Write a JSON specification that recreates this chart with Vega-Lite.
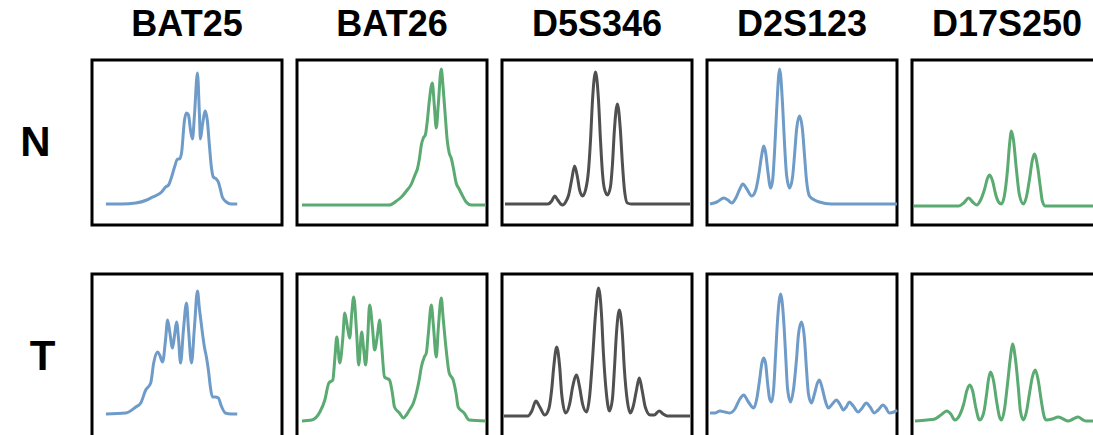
{
  "$schema": "https://vega.github.io/schema/vega-lite/v6.json",
  "background": "white",
  "padding": {"left": 20, "top": 7, "right": 0, "bottom": 0},
  "datasets": {
    "traces": [
      {"r":"N","c":"BAT25","x":14,"y":21},{"r":"N","c":"BAT25","x":30,"y":21},{"r":"N","c":"BAT25","x":44,"y":22},{"r":"N","c":"BAT25","x":55,"y":25},{"r":"N","c":"BAT25","x":61,"y":28},{"r":"N","c":"BAT25","x":70,"y":33},{"r":"N","c":"BAT25","x":74,"y":38},{"r":"N","c":"BAT25","x":77,"y":40},{"r":"N","c":"BAT25","x":80,"y":48},{"r":"N","c":"BAT25","x":83,"y":58},{"r":"N","c":"BAT25","x":86,"y":66},{"r":"N","c":"BAT25","x":88,"y":66},{"r":"N","c":"BAT25","x":90,"y":72},{"r":"N","c":"BAT25","x":93,"y":105},{"r":"N","c":"BAT25","x":95,"y":112},{"r":"N","c":"BAT25","x":97,"y":110},{"r":"N","c":"BAT25","x":99,"y":95},{"r":"N","c":"BAT25","x":101,"y":86},{"r":"N","c":"BAT25","x":103,"y":110},{"r":"N","c":"BAT25","x":106,"y":152},{"r":"N","c":"BAT25","x":108,"y":110},{"r":"N","c":"BAT25","x":109,"y":86},{"r":"N","c":"BAT25","x":111,"y":100},{"r":"N","c":"BAT25","x":114,"y":114},{"r":"N","c":"BAT25","x":116,"y":104},{"r":"N","c":"BAT25","x":118,"y":80},{"r":"N","c":"BAT25","x":120,"y":58},{"r":"N","c":"BAT25","x":122,"y":48},{"r":"N","c":"BAT25","x":125,"y":46},{"r":"N","c":"BAT25","x":127,"y":43},{"r":"N","c":"BAT25","x":129,"y":36},{"r":"N","c":"BAT25","x":131,"y":28},{"r":"N","c":"BAT25","x":135,"y":23},{"r":"N","c":"BAT25","x":140,"y":21},{"r":"N","c":"BAT25","x":146,"y":21},

      {"r":"N","c":"BAT26","x":5,"y":20},{"r":"N","c":"BAT26","x":93,"y":20},{"r":"N","c":"BAT26","x":100,"y":24},{"r":"N","c":"BAT26","x":105,"y":28},{"r":"N","c":"BAT26","x":110,"y":34},{"r":"N","c":"BAT26","x":115,"y":41},{"r":"N","c":"BAT26","x":117,"y":46},{"r":"N","c":"BAT26","x":119,"y":51},{"r":"N","c":"BAT26","x":121,"y":56},{"r":"N","c":"BAT26","x":123,"y":66},{"r":"N","c":"BAT26","x":125,"y":80},{"r":"N","c":"BAT26","x":127,"y":87},{"r":"N","c":"BAT26","x":129,"y":90},{"r":"N","c":"BAT26","x":131,"y":104},{"r":"N","c":"BAT26","x":133,"y":124},{"r":"N","c":"BAT26","x":136,"y":142},{"r":"N","c":"BAT26","x":138,"y":120},{"r":"N","c":"BAT26","x":140,"y":97},{"r":"N","c":"BAT26","x":142,"y":120},{"r":"N","c":"BAT26","x":145,"y":156},{"r":"N","c":"BAT26","x":147,"y":136},{"r":"N","c":"BAT26","x":149,"y":110},{"r":"N","c":"BAT26","x":151,"y":85},{"r":"N","c":"BAT26","x":153,"y":72},{"r":"N","c":"BAT26","x":155,"y":67},{"r":"N","c":"BAT26","x":157,"y":58},{"r":"N","c":"BAT26","x":160,"y":42},{"r":"N","c":"BAT26","x":163,"y":36},{"r":"N","c":"BAT26","x":166,"y":30},{"r":"N","c":"BAT26","x":170,"y":23},{"r":"N","c":"BAT26","x":175,"y":20},{"r":"N","c":"BAT26","x":190,"y":20},

      {"r":"N","c":"D5S346","x":3,"y":21},{"r":"N","c":"D5S346","x":46,"y":21},{"r":"N","c":"D5S346","x":50,"y":24},{"r":"N","c":"D5S346","x":53,"y":29},{"r":"N","c":"D5S346","x":56,"y":25},{"r":"N","c":"D5S346","x":59,"y":21},{"r":"N","c":"D5S346","x":61,"y":20},{"r":"N","c":"D5S346","x":64,"y":23},{"r":"N","c":"D5S346","x":67,"y":30},{"r":"N","c":"D5S346","x":70,"y":45},{"r":"N","c":"D5S346","x":73,"y":59},{"r":"N","c":"D5S346","x":76,"y":47},{"r":"N","c":"D5S346","x":78,"y":35},{"r":"N","c":"D5S346","x":81,"y":29},{"r":"N","c":"D5S346","x":84,"y":35},{"r":"N","c":"D5S346","x":87,"y":55},{"r":"N","c":"D5S346","x":89,"y":85},{"r":"N","c":"D5S346","x":91,"y":125},{"r":"N","c":"D5S346","x":94,"y":153},{"r":"N","c":"D5S346","x":97,"y":125},{"r":"N","c":"D5S346","x":99,"y":85},{"r":"N","c":"D5S346","x":101,"y":52},{"r":"N","c":"D5S346","x":103,"y":36},{"r":"N","c":"D5S346","x":106,"y":30},{"r":"N","c":"D5S346","x":109,"y":38},{"r":"N","c":"D5S346","x":111,"y":60},{"r":"N","c":"D5S346","x":113,"y":95},{"r":"N","c":"D5S346","x":116,"y":121},{"r":"N","c":"D5S346","x":119,"y":95},{"r":"N","c":"D5S346","x":121,"y":62},{"r":"N","c":"D5S346","x":123,"y":36},{"r":"N","c":"D5S346","x":126,"y":22},{"r":"N","c":"D5S346","x":130,"y":21},{"r":"N","c":"D5S346","x":189,"y":21},

      {"r":"N","c":"D2S123","x":3,"y":21},{"r":"N","c":"D2S123","x":10,"y":23},{"r":"N","c":"D2S123","x":17,"y":27},{"r":"N","c":"D2S123","x":21,"y":25},{"r":"N","c":"D2S123","x":25,"y":22},{"r":"N","c":"D2S123","x":29,"y":27},{"r":"N","c":"D2S123","x":33,"y":36},{"r":"N","c":"D2S123","x":36,"y":41},{"r":"N","c":"D2S123","x":40,"y":36},{"r":"N","c":"D2S123","x":45,"y":29},{"r":"N","c":"D2S123","x":49,"y":35},{"r":"N","c":"D2S123","x":52,"y":50},{"r":"N","c":"D2S123","x":55,"y":70},{"r":"N","c":"D2S123","x":57,"y":79},{"r":"N","c":"D2S123","x":59,"y":72},{"r":"N","c":"D2S123","x":61,"y":55},{"r":"N","c":"D2S123","x":64,"y":37},{"r":"N","c":"D2S123","x":66,"y":45},{"r":"N","c":"D2S123","x":68,"y":75},{"r":"N","c":"D2S123","x":70,"y":115},{"r":"N","c":"D2S123","x":73,"y":156},{"r":"N","c":"D2S123","x":76,"y":120},{"r":"N","c":"D2S123","x":78,"y":80},{"r":"N","c":"D2S123","x":80,"y":50},{"r":"N","c":"D2S123","x":83,"y":37},{"r":"N","c":"D2S123","x":86,"y":48},{"r":"N","c":"D2S123","x":88,"y":70},{"r":"N","c":"D2S123","x":90,"y":95},{"r":"N","c":"D2S123","x":93,"y":109},{"r":"N","c":"D2S123","x":96,"y":95},{"r":"N","c":"D2S123","x":98,"y":70},{"r":"N","c":"D2S123","x":100,"y":45},{"r":"N","c":"D2S123","x":103,"y":29},{"r":"N","c":"D2S123","x":108,"y":25},{"r":"N","c":"D2S123","x":113,"y":23},{"r":"N","c":"D2S123","x":125,"y":21},{"r":"N","c":"D2S123","x":191,"y":21},

      {"r":"N","c":"D17S250","x":2,"y":19},{"r":"N","c":"D17S250","x":47,"y":19},{"r":"N","c":"D17S250","x":52,"y":22},{"r":"N","c":"D17S250","x":57,"y":27},{"r":"N","c":"D17S250","x":61,"y":23},{"r":"N","c":"D17S250","x":65,"y":20},{"r":"N","c":"D17S250","x":69,"y":25},{"r":"N","c":"D17S250","x":73,"y":36},{"r":"N","c":"D17S250","x":76,"y":47},{"r":"N","c":"D17S250","x":78,"y":50},{"r":"N","c":"D17S250","x":81,"y":44},{"r":"N","c":"D17S250","x":84,"y":31},{"r":"N","c":"D17S250","x":87,"y":23},{"r":"N","c":"D17S250","x":90,"y":21},{"r":"N","c":"D17S250","x":93,"y":30},{"r":"N","c":"D17S250","x":96,"y":55},{"r":"N","c":"D17S250","x":98,"y":80},{"r":"N","c":"D17S250","x":100,"y":94},{"r":"N","c":"D17S250","x":102,"y":85},{"r":"N","c":"D17S250","x":105,"y":55},{"r":"N","c":"D17S250","x":108,"y":30},{"r":"N","c":"D17S250","x":112,"y":21},{"r":"N","c":"D17S250","x":115,"y":28},{"r":"N","c":"D17S250","x":118,"y":45},{"r":"N","c":"D17S250","x":121,"y":65},{"r":"N","c":"D17S250","x":123,"y":71},{"r":"N","c":"D17S250","x":126,"y":60},{"r":"N","c":"D17S250","x":129,"y":38},{"r":"N","c":"D17S250","x":131,"y":24},{"r":"N","c":"D17S250","x":134,"y":19},{"r":"N","c":"D17S250","x":191,"y":19},

      {"r":"T","c":"BAT25","x":14,"y":25},{"r":"T","c":"BAT25","x":34,"y":26},{"r":"T","c":"BAT25","x":44,"y":32},{"r":"T","c":"BAT25","x":49,"y":36},{"r":"T","c":"BAT25","x":54,"y":49},{"r":"T","c":"BAT25","x":59,"y":56},{"r":"T","c":"BAT25","x":62,"y":76},{"r":"T","c":"BAT25","x":66,"y":87},{"r":"T","c":"BAT25","x":68,"y":84},{"r":"T","c":"BAT25","x":71,"y":77},{"r":"T","c":"BAT25","x":74,"y":100},{"r":"T","c":"BAT25","x":76,"y":119},{"r":"T","c":"BAT25","x":78,"y":108},{"r":"T","c":"BAT25","x":81,"y":91},{"r":"T","c":"BAT25","x":83,"y":104},{"r":"T","c":"BAT25","x":85,"y":117},{"r":"T","c":"BAT25","x":87,"y":100},{"r":"T","c":"BAT25","x":89,"y":76},{"r":"T","c":"BAT25","x":92,"y":110},{"r":"T","c":"BAT25","x":95,"y":136},{"r":"T","c":"BAT25","x":97,"y":110},{"r":"T","c":"BAT25","x":100,"y":76},{"r":"T","c":"BAT25","x":103,"y":112},{"r":"T","c":"BAT25","x":106,"y":148},{"r":"T","c":"BAT25","x":108,"y":130},{"r":"T","c":"BAT25","x":111,"y":106},{"r":"T","c":"BAT25","x":113,"y":92},{"r":"T","c":"BAT25","x":115,"y":82},{"r":"T","c":"BAT25","x":117,"y":69},{"r":"T","c":"BAT25","x":119,"y":52},{"r":"T","c":"BAT25","x":121,"y":42},{"r":"T","c":"BAT25","x":124,"y":42},{"r":"T","c":"BAT25","x":127,"y":41},{"r":"T","c":"BAT25","x":130,"y":33},{"r":"T","c":"BAT25","x":134,"y":26},{"r":"T","c":"BAT25","x":140,"y":25},{"r":"T","c":"BAT25","x":146,"y":25},

      {"r":"T","c":"BAT26","x":5,"y":18},{"r":"T","c":"BAT26","x":15,"y":19},{"r":"T","c":"BAT26","x":23,"y":27},{"r":"T","c":"BAT26","x":28,"y":39},{"r":"T","c":"BAT26","x":32,"y":56},{"r":"T","c":"BAT26","x":36,"y":59},{"r":"T","c":"BAT26","x":38,"y":80},{"r":"T","c":"BAT26","x":40,"y":102},{"r":"T","c":"BAT26","x":43,"y":76},{"r":"T","c":"BAT26","x":46,"y":100},{"r":"T","c":"BAT26","x":48,"y":126},{"r":"T","c":"BAT26","x":51,"y":110},{"r":"T","c":"BAT26","x":53,"y":101},{"r":"T","c":"BAT26","x":55,"y":125},{"r":"T","c":"BAT26","x":57,"y":142},{"r":"T","c":"BAT26","x":60,"y":105},{"r":"T","c":"BAT26","x":62,"y":74},{"r":"T","c":"BAT26","x":65,"y":107},{"r":"T","c":"BAT26","x":67,"y":90},{"r":"T","c":"BAT26","x":69,"y":74},{"r":"T","c":"BAT26","x":71,"y":100},{"r":"T","c":"BAT26","x":73,"y":134},{"r":"T","c":"BAT26","x":76,"y":110},{"r":"T","c":"BAT26","x":78,"y":89},{"r":"T","c":"BAT26","x":81,"y":105},{"r":"T","c":"BAT26","x":83,"y":119},{"r":"T","c":"BAT26","x":85,"y":95},{"r":"T","c":"BAT26","x":88,"y":62},{"r":"T","c":"BAT26","x":93,"y":59},{"r":"T","c":"BAT26","x":96,"y":45},{"r":"T","c":"BAT26","x":98,"y":32},{"r":"T","c":"BAT26","x":103,"y":26},{"r":"T","c":"BAT26","x":107,"y":21},{"r":"T","c":"BAT26","x":110,"y":24},{"r":"T","c":"BAT26","x":113,"y":29},{"r":"T","c":"BAT26","x":117,"y":36},{"r":"T","c":"BAT26","x":120,"y":46},{"r":"T","c":"BAT26","x":123,"y":60},{"r":"T","c":"BAT26","x":125,"y":72},{"r":"T","c":"BAT26","x":128,"y":82},{"r":"T","c":"BAT26","x":130,"y":86},{"r":"T","c":"BAT26","x":132,"y":105},{"r":"T","c":"BAT26","x":135,"y":134},{"r":"T","c":"BAT26","x":137,"y":115},{"r":"T","c":"BAT26","x":140,"y":82},{"r":"T","c":"BAT26","x":142,"y":110},{"r":"T","c":"BAT26","x":145,"y":141},{"r":"T","c":"BAT26","x":147,"y":120},{"r":"T","c":"BAT26","x":150,"y":89},{"r":"T","c":"BAT26","x":153,"y":66},{"r":"T","c":"BAT26","x":157,"y":59},{"r":"T","c":"BAT26","x":160,"y":45},{"r":"T","c":"BAT26","x":162,"y":32},{"r":"T","c":"BAT26","x":168,"y":26},{"r":"T","c":"BAT26","x":173,"y":19},{"r":"T","c":"BAT26","x":190,"y":18},

      {"r":"T","c":"D5S346","x":2,"y":23},{"r":"T","c":"D5S346","x":26,"y":23},{"r":"T","c":"D5S346","x":30,"y":28},{"r":"T","c":"D5S346","x":34,"y":38},{"r":"T","c":"D5S346","x":38,"y":32},{"r":"T","c":"D5S346","x":43,"y":24},{"r":"T","c":"D5S346","x":47,"y":30},{"r":"T","c":"D5S346","x":50,"y":50},{"r":"T","c":"D5S346","x":52,"y":72},{"r":"T","c":"D5S346","x":55,"y":92},{"r":"T","c":"D5S346","x":58,"y":72},{"r":"T","c":"D5S346","x":60,"y":45},{"r":"T","c":"D5S346","x":64,"y":26},{"r":"T","c":"D5S346","x":68,"y":35},{"r":"T","c":"D5S346","x":71,"y":52},{"r":"T","c":"D5S346","x":75,"y":64},{"r":"T","c":"D5S346","x":78,"y":52},{"r":"T","c":"D5S346","x":81,"y":35},{"r":"T","c":"D5S346","x":85,"y":27},{"r":"T","c":"D5S346","x":88,"y":42},{"r":"T","c":"D5S346","x":91,"y":80},{"r":"T","c":"D5S346","x":94,"y":125},{"r":"T","c":"D5S346","x":97,"y":151},{"r":"T","c":"D5S346","x":100,"y":125},{"r":"T","c":"D5S346","x":102,"y":85},{"r":"T","c":"D5S346","x":105,"y":45},{"r":"T","c":"D5S346","x":108,"y":28},{"r":"T","c":"D5S346","x":111,"y":40},{"r":"T","c":"D5S346","x":113,"y":70},{"r":"T","c":"D5S346","x":115,"y":105},{"r":"T","c":"D5S346","x":118,"y":129},{"r":"T","c":"D5S346","x":121,"y":105},{"r":"T","c":"D5S346","x":123,"y":70},{"r":"T","c":"D5S346","x":126,"y":38},{"r":"T","c":"D5S346","x":129,"y":26},{"r":"T","c":"D5S346","x":132,"y":33},{"r":"T","c":"D5S346","x":135,"y":48},{"r":"T","c":"D5S346","x":138,"y":61},{"r":"T","c":"D5S346","x":141,"y":48},{"r":"T","c":"D5S346","x":144,"y":32},{"r":"T","c":"D5S346","x":149,"y":24},{"r":"T","c":"D5S346","x":153,"y":24},{"r":"T","c":"D5S346","x":158,"y":28},{"r":"T","c":"D5S346","x":162,"y":25},{"r":"T","c":"D5S346","x":166,"y":23},{"r":"T","c":"D5S346","x":189,"y":23},

      {"r":"T","c":"D2S123","x":3,"y":26},{"r":"T","c":"D2S123","x":8,"y":26},{"r":"T","c":"D2S123","x":13,"y":28},{"r":"T","c":"D2S123","x":18,"y":27},{"r":"T","c":"D2S123","x":23,"y":26},{"r":"T","c":"D2S123","x":28,"y":30},{"r":"T","c":"D2S123","x":33,"y":40},{"r":"T","c":"D2S123","x":37,"y":44},{"r":"T","c":"D2S123","x":41,"y":38},{"r":"T","c":"D2S123","x":47,"y":31},{"r":"T","c":"D2S123","x":50,"y":40},{"r":"T","c":"D2S123","x":53,"y":60},{"r":"T","c":"D2S123","x":55,"y":75},{"r":"T","c":"D2S123","x":57,"y":81},{"r":"T","c":"D2S123","x":59,"y":75},{"r":"T","c":"D2S123","x":61,"y":55},{"r":"T","c":"D2S123","x":63,"y":40},{"r":"T","c":"D2S123","x":65,"y":37},{"r":"T","c":"D2S123","x":67,"y":50},{"r":"T","c":"D2S123","x":69,"y":85},{"r":"T","c":"D2S123","x":71,"y":120},{"r":"T","c":"D2S123","x":74,"y":145},{"r":"T","c":"D2S123","x":77,"y":120},{"r":"T","c":"D2S123","x":79,"y":85},{"r":"T","c":"D2S123","x":81,"y":50},{"r":"T","c":"D2S123","x":84,"y":37},{"r":"T","c":"D2S123","x":87,"y":50},{"r":"T","c":"D2S123","x":90,"y":80},{"r":"T","c":"D2S123","x":92,"y":105},{"r":"T","c":"D2S123","x":95,"y":117},{"r":"T","c":"D2S123","x":98,"y":100},{"r":"T","c":"D2S123","x":100,"y":70},{"r":"T","c":"D2S123","x":102,"y":45},{"r":"T","c":"D2S123","x":105,"y":36},{"r":"T","c":"D2S123","x":108,"y":45},{"r":"T","c":"D2S123","x":111,"y":56},{"r":"T","c":"D2S123","x":113,"y":59},{"r":"T","c":"D2S123","x":116,"y":50},{"r":"T","c":"D2S123","x":119,"y":38},{"r":"T","c":"D2S123","x":122,"y":31},{"r":"T","c":"D2S123","x":126,"y":35},{"r":"T","c":"D2S123","x":130,"y":39},{"r":"T","c":"D2S123","x":134,"y":34},{"r":"T","c":"D2S123","x":137,"y":29},{"r":"T","c":"D2S123","x":140,"y":32},{"r":"T","c":"D2S123","x":143,"y":37},{"r":"T","c":"D2S123","x":147,"y":33},{"r":"T","c":"D2S123","x":152,"y":27},{"r":"T","c":"D2S123","x":156,"y":31},{"r":"T","c":"D2S123","x":160,"y":36},{"r":"T","c":"D2S123","x":164,"y":32},{"r":"T","c":"D2S123","x":168,"y":26},{"r":"T","c":"D2S123","x":172,"y":29},{"r":"T","c":"D2S123","x":177,"y":34},{"r":"T","c":"D2S123","x":180,"y":31},{"r":"T","c":"D2S123","x":183,"y":26},{"r":"T","c":"D2S123","x":188,"y":27},{"r":"T","c":"D2S123","x":191,"y":29},

      {"r":"T","c":"D17S250","x":3,"y":18},{"r":"T","c":"D17S250","x":15,"y":19},{"r":"T","c":"D17S250","x":23,"y":20},{"r":"T","c":"D17S250","x":29,"y":24},{"r":"T","c":"D17S250","x":35,"y":28},{"r":"T","c":"D17S250","x":39,"y":25},{"r":"T","c":"D17S250","x":43,"y":19},{"r":"T","c":"D17S250","x":48,"y":24},{"r":"T","c":"D17S250","x":52,"y":35},{"r":"T","c":"D17S250","x":55,"y":48},{"r":"T","c":"D17S250","x":58,"y":54},{"r":"T","c":"D17S250","x":61,"y":48},{"r":"T","c":"D17S250","x":64,"y":32},{"r":"T","c":"D17S250","x":68,"y":19},{"r":"T","c":"D17S250","x":72,"y":26},{"r":"T","c":"D17S250","x":75,"y":45},{"r":"T","c":"D17S250","x":77,"y":60},{"r":"T","c":"D17S250","x":79,"y":67},{"r":"T","c":"D17S250","x":82,"y":58},{"r":"T","c":"D17S250","x":85,"y":38},{"r":"T","c":"D17S250","x":88,"y":22},{"r":"T","c":"D17S250","x":90,"y":19},{"r":"T","c":"D17S250","x":93,"y":30},{"r":"T","c":"D17S250","x":96,"y":55},{"r":"T","c":"D17S250","x":99,"y":82},{"r":"T","c":"D17S250","x":101,"y":95},{"r":"T","c":"D17S250","x":104,"y":80},{"r":"T","c":"D17S250","x":107,"y":50},{"r":"T","c":"D17S250","x":109,"y":28},{"r":"T","c":"D17S250","x":112,"y":19},{"r":"T","c":"D17S250","x":115,"y":27},{"r":"T","c":"D17S250","x":118,"y":45},{"r":"T","c":"D17S250","x":121,"y":62},{"r":"T","c":"D17S250","x":124,"y":69},{"r":"T","c":"D17S250","x":127,"y":58},{"r":"T","c":"D17S250","x":130,"y":38},{"r":"T","c":"D17S250","x":133,"y":22},{"r":"T","c":"D17S250","x":135,"y":19},{"r":"T","c":"D17S250","x":141,"y":20},{"r":"T","c":"D17S250","x":147,"y":22},{"r":"T","c":"D17S250","x":152,"y":20},{"r":"T","c":"D17S250","x":157,"y":18},{"r":"T","c":"D17S250","x":162,"y":20},{"r":"T","c":"D17S250","x":167,"y":22},{"r":"T","c":"D17S250","x":172,"y":19},{"r":"T","c":"D17S250","x":175,"y":18},{"r":"T","c":"D17S250","x":191,"y":18}
    ]
  },
  "data": {"name": "traces"},
  "facet": {
    "row": {
      "field": "r", "type": "nominal", "sort": ["N", "T"],
      "header": {"title": null, "labelAngle": 0, "labelFont": "Liberation Sans", "labelFontSize": 42, "labelFontWeight": "bold", "labelColor": "black", "labelPadding": 9, "labelBaseline": "middle"}
    },
    "column": {
      "field": "c", "type": "nominal", "sort": ["BAT25", "BAT26", "D5S346", "D2S123", "D17S250"],
      "header": {"title": null, "labelFont": "Liberation Sans", "labelFontSize": 36, "labelFontWeight": "bold", "labelColor": "black", "labelPadding": 14}
    }
  },
  "spacing": {"row": 45, "column": 10},
  "spec": {
    "width": 190,
    "height": 165,
    "mark": {"type": "line", "interpolate": "monotone", "strokeWidth": 3, "strokeJoin": "round"},
    "encoding": {
      "x": {"field": "x", "type": "quantitative", "scale": {"domain": [0, 191], "nice": false, "zero": false}, "axis": null},
      "y": {"field": "y", "type": "quantitative", "scale": {"domain": [0, 165], "nice": false, "zero": true}, "axis": null},
      "color": {
        "field": "c", "type": "nominal",
        "scale": {"domain": ["BAT25", "BAT26", "D5S346", "D2S123", "D17S250"], "range": ["#6f9bc8", "#5aaa72", "#505050", "#6f9bc8", "#5aaa72"]},
        "legend": null
      }
    }
  },
  "config": {
    "view": {"stroke": "black", "strokeWidth": 3}
  }
}
